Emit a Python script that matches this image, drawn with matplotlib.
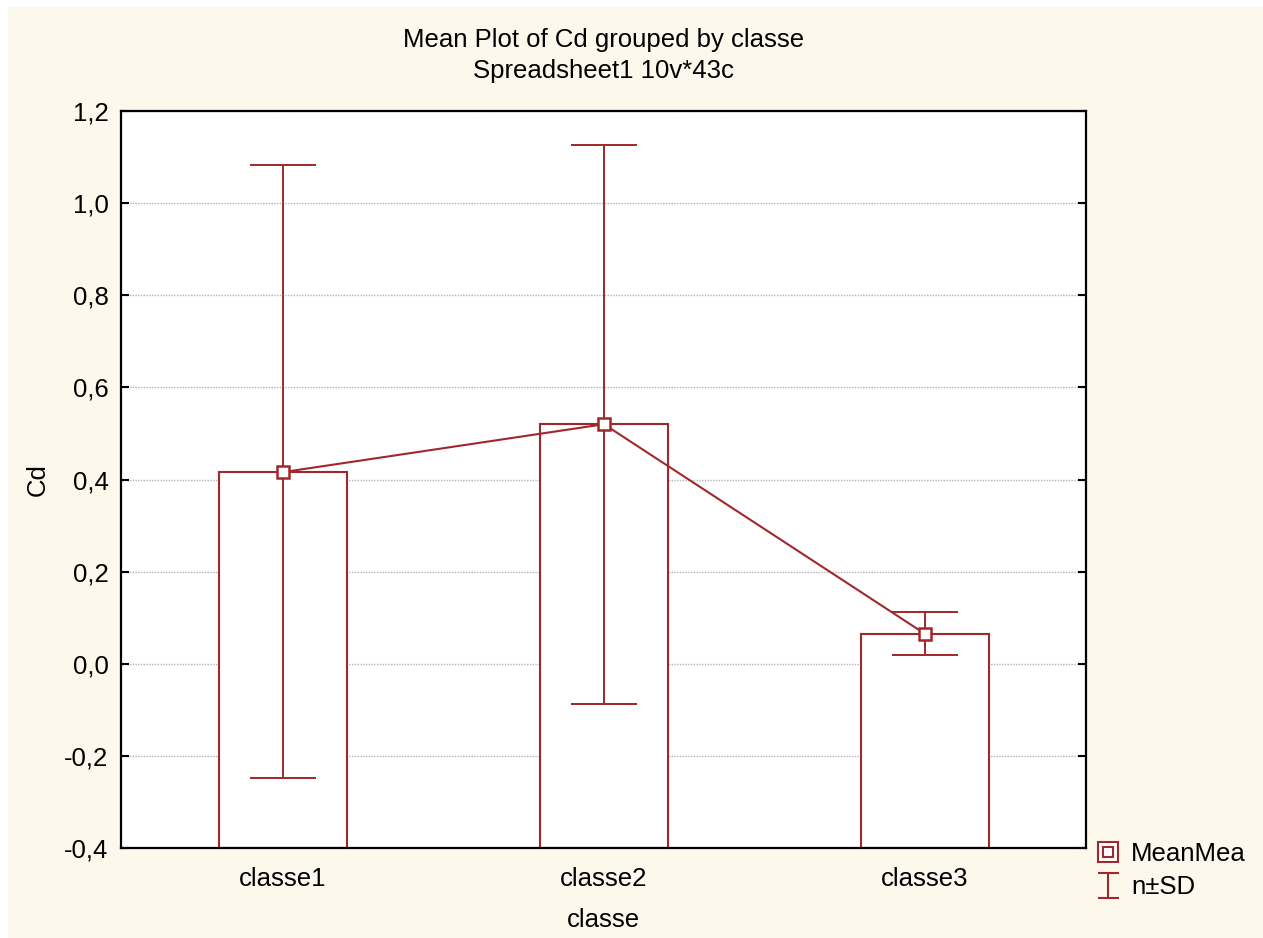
import matplotlib
matplotlib.use("Agg")
import matplotlib.pyplot as plt
from matplotlib.lines import Line2D
from matplotlib.path import Path
from matplotlib.patches import Rectangle
from matplotlib.legend_handler import HandlerTuple

categories = ["classe1", "classe2", "classe3"]
means = [0.416, 0.520, 0.065]
sd_upper = [1.083, 1.126, 0.112]
sd_lower = [-0.248, -0.087, 0.019]
yticks = [-0.4, -0.2, 0.0, 0.2, 0.4, 0.6, 0.8, 1.0, 1.2]
ytick_labels = ["-0,4", "-0,2", "0,0", "0,2", "0,4", "0,6", "0,8", "1,0", "1,2"]

RED = "#A0282C"
CREAM = "#FDF8EC"
plt.rcParams['font.family'] = ['Liberation Sans', 'DejaVu Sans']
FS = 18.5

fig = plt.figure(figsize=(12.63, 9.38), dpi=100, facecolor="white")
fig.patches.append(Rectangle((8/1263, 0), 1 - 8/1263, 1 - 7/938,
                             transform=fig.transFigure, facecolor=CREAM,
                             edgecolor="none", zorder=-10))
ax = fig.add_axes([121/1263, 1 - 848/938, (1086-121)/1263, (848-111)/938])
ax.set_facecolor("white")

x = list(range(len(categories)))
ymin = -0.4
heights = [m - ymin for m in means]
ax.bar(x, heights, bottom=ymin, width=0.4, facecolor="white", edgecolor=RED,
       linewidth=1.5, zorder=2)
yerr = [[m - lo for m, lo in zip(means, sd_lower)],
        [hi - m for m, hi in zip(means, sd_upper)]]
ax.errorbar(x, means, yerr=yerr, fmt="none", ecolor=RED, elinewidth=1.4,
            capsize=23.5, capthick=1.4, zorder=3)
ax.plot(x, means, color=RED, lw=1.5, marker="s", markersize=8.5,
        markerfacecolor="white", markeredgecolor=RED, markeredgewidth=1.8, zorder=4)

ax.set_xlim(-0.505, 2.502)
ax.set_ylim(-0.4, 1.2)
ax.set_yticks(yticks)
ax.set_yticklabels(ytick_labels, fontsize=FS)
ax.set_xticks(x)
ax.set_xticklabels(categories, fontsize=FS)
ax.tick_params(axis="y", direction="in", left=True, right=True, length=6, width=1.5, pad=9)
ax.tick_params(axis="x", direction="in", bottom=True, top=False, length=5, width=1.2, pad=14)
ax.grid(axis="y", color="#b5b5b5", linestyle=(0, (1, 1)), linewidth=1, zorder=0)
ax.set_axisbelow(True)
for s in ax.spines.values():
    s.set_linewidth(1.6)
    s.set_color("black")

ax.set_xlabel("classe", fontsize=FS, labelpad=12)
ax.set_ylabel("Cd", fontsize=FS, labelpad=10)
ax.set_title("Mean Plot of Cd grouped by classe\nSpreadsheet1 10v*43c",
             fontsize=FS, pad=24, linespacing=1.35)

# legend
outer = Line2D([], [], linestyle="none", marker="s", markersize=14,
               markerfacecolor="white", markeredgecolor=RED, markeredgewidth=1.5)
inner = Line2D([], [], linestyle="none", marker="s", markersize=6.5,
               markerfacecolor="white", markeredgecolor=RED, markeredgewidth=1.5)
ipath = Path([(-0.42, 0.5), (0.42, 0.5), (0, 0.5), (0, -0.5), (-0.42, -0.5), (0.42, -0.5)],
             [Path.MOVETO, Path.LINETO, Path.MOVETO, Path.LINETO, Path.MOVETO, Path.LINETO])
ebar = Line2D([], [], linestyle="none", marker=ipath, markersize=18,
              markerfacecolor="none", markeredgecolor=RED, markeredgewidth=1.5)
leg = fig.legend([(outer, inner), ebar], ["MeanMea", "n±SD"],
                 handler_map={tuple: HandlerTuple(ndivide=1)},
                 loc="upper left", bbox_to_anchor=(1090/1263, 1 - 837/938),
                 frameon=False, fontsize=FS, handlelength=1.0, handletextpad=0.4,
                 labelspacing=0.35, borderaxespad=0, borderpad=0.2)

fig.savefig("out.png", dpi=100, facecolor="white")
